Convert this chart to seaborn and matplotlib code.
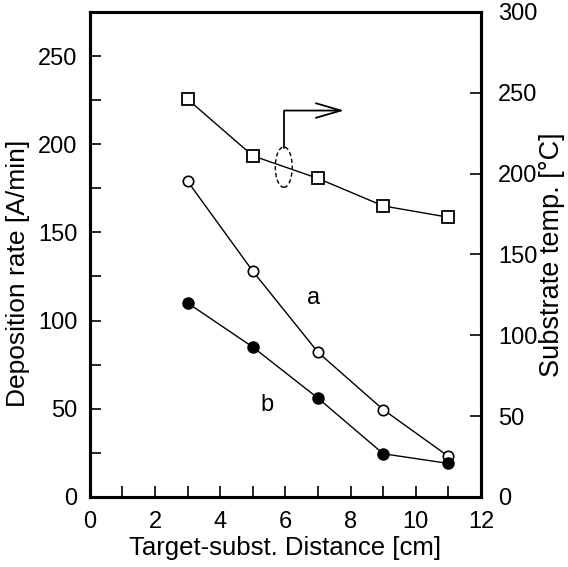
import matplotlib
matplotlib.use("Agg")
import matplotlib.pyplot as plt
import seaborn as sns
import pandas as pd
from matplotlib.patches import Ellipse
from matplotlib.ticker import MultipleLocator

# ---- data ----
distance = [3, 5, 7, 9, 11]                 # Target-subst. distance [cm]
rate_a = [179, 128, 82, 49.5, 23]           # deposition rate, curve a [A/min]
rate_b = [110, 85, 56, 24.5, 19]            # deposition rate, curve b [A/min]
substrate_temp = [246, 211, 197, 180, 173]  # substrate temperature [°C]

x_ticks = [0, 2, 4, 6, 8, 10, 12]
left_ticks = [0, 50, 100, 150, 200, 250]
right_ticks = [0, 50, 100, 150, 200, 250, 300]

df = pd.DataFrame({"distance": distance, "a": rate_a, "b": rate_b, "temp": substrate_temp})

sns.set_style("ticks")
plt.rcParams['font.family'] = ['Liberation Sans', 'DejaVu Sans']
plt.rcParams['font.size'] = 17
for key in ("text.color", "axes.labelcolor", "xtick.color", "ytick.color"):
    plt.rcParams[key] = "black"

fig = plt.figure(figsize=(5.68, 5.67), dpi=100)
ax = fig.add_axes([0.158, 0.1235, 0.689, 0.8555])
ax2 = ax.twinx()

sns.lineplot(data=df, x="distance", y="a", ax=ax, color="black", lw=1,
             marker="o", markersize=7.5, markerfacecolor="white",
             markeredgecolor="black", markeredgewidth=1.2)
sns.lineplot(data=df, x="distance", y="b", ax=ax, color="black", lw=1,
             marker="o", markersize=8, markerfacecolor="black",
             markeredgecolor="black", markeredgewidth=1)
sns.lineplot(data=df, x="distance", y="temp", ax=ax2, color="black", lw=1,
             marker="s", markersize=8, markerfacecolor="white",
             markeredgecolor="black", markeredgewidth=1.3)

ax.set_xlim(0, 12)
ax.set_ylim(0, 275)
ax2.set_ylim(0, 300)
ax.set_xticks(x_ticks)
ax.xaxis.set_minor_locator(MultipleLocator(1))
ax.set_yticks(left_ticks)
ax.yaxis.set_minor_locator(MultipleLocator(25))
ax2.set_yticks(right_ticks)

ax.tick_params(axis="both", which="both", direction="in", length=8, width=1.2,
               labelsize=17, color="black", labelcolor="black")
ax.tick_params(axis="x", which="both", top=False, pad=10)
ax.tick_params(axis="y", which="both", right=False, pad=9)
ax2.tick_params(axis="y", which="both", direction="in", length=8, width=1.2,
                labelsize=17, pad=12, color="black", labelcolor="black")

ax.set_xlabel("Target-subst. Distance [cm]", fontsize=18.5, labelpad=2, color="black")
ax.set_ylabel("Deposition rate [A/min]", fontsize=19, color="black")
ax.yaxis.set_label_coords(-0.152, 0.46)
ax2.set_ylabel("Substrate temp. [°C]", fontsize=19.5, labelpad=1, color="black")

for a in (ax, ax2):
    for s in a.spines.values():
        s.set_linewidth(2.2)
        s.set_color("black")

# curve labels
ax.text(6.86, 113, "a", fontsize=17, ha="center", va="center", color="black")
ax.text(5.45, 52, "b", fontsize=17, ha="center", va="center", color="black")

# dashed ellipse with arrow pointing to the right axis
ax2.add_patch(Ellipse((5.95, 204), width=0.52, height=25, fill=False,
                      ls=(0, (3, 2)), lw=1, color="black"))
ax2.plot([5.97, 5.97], [216, 239], color="black", lw=1.3)
ax2.annotate("", xy=(7.8, 239), xytext=(5.97, 239),
             arrowprops=dict(arrowstyle="->,head_length=1.2,head_width=0.35",
                             lw=1.3, color="black", mutation_scale=15,
                             shrinkA=0, shrinkB=0))

fig.savefig("out.png", dpi=100)
